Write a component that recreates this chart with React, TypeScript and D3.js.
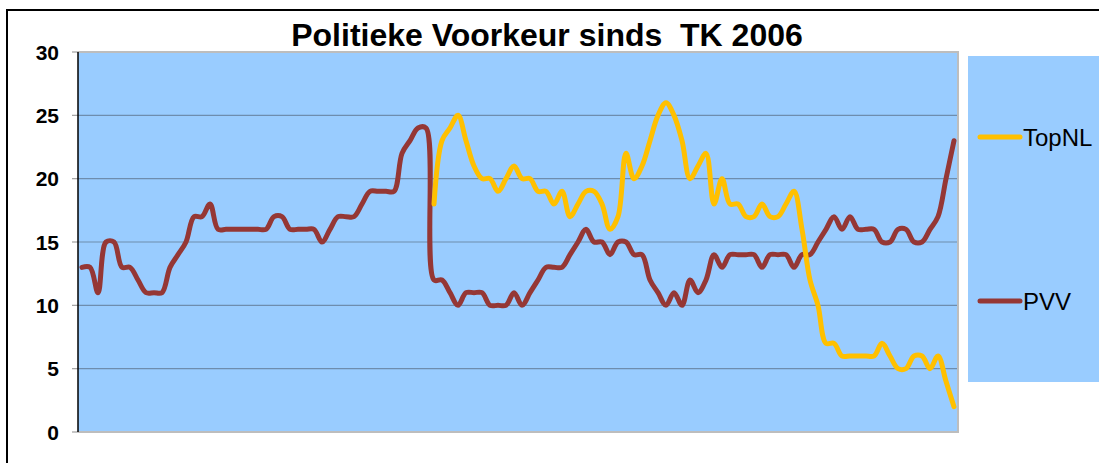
import React from 'react';
import * as d3 from 'd3';

// poll index (weeks since TK 2006), values in percent
const weeks = Array.from({ length: 110 }, (_, i) => i);

const pvv = [
  13, 13, 11, 15, 15, 13, 13, 12, 11, 11,
  11, 13, 14, 15, 17, 17, 18, 16, 16, 16,
  16, 16, 16, 16, 17, 17, 16, 16, 16, 16,
  15, 16, 17, 17, 17, 18, 19, 19, 19, 19,
  22, 23, 24, 24, 12, 12, 11, 10, 11, 11,
  11, 10, 10, 10, 11, 10, 11, 12, 13, 13,
  13, 14, 15, 16, 15, 15, 14, 15, 15, 14,
  14, 12, 11, 10, 11, 10, 12, 11, 12, 14,
  13, 14, 14, 14, 14, 13, 14, 14, 14, 13,
  14, 14, 15, 16, 17, 16, 17, 16, 16, 16,
  15, 15, 16, 16, 15, 15, 16, 17, 20, 23,
];

// TopNL only polled from week 44 on
const topnl = [
  null, null, null, null, null, null, null, null, null, null,
  null, null, null, null, null, null, null, null, null, null,
  null, null, null, null, null, null, null, null, null, null,
  null, null, null, null, null, null, null, null, null, null,
  null, null, null, null, 18, 23, 24, 25, 23, 21,
  20, 20, 19, 20, 21, 20, 20, 19, 19, 18,
  19, 17, 18, 19, 19, 18, 16, 17, 22, 20,
  21, 23, 25, 26, 25, 23, 20, 21, 22, 18,
  20, 18, 18, 17, 17, 18, 17, 17, 18, 19,
  16, 12, 10, 7, 7, 6, 6, 6, 6, 6,
  7, 6, 5, 5, 6, 6, 5, 6, 4, 2,
];

const yTicks = [0, 5, 10, 15, 20, 25, 30];
const seriesNames = ['TopNL', 'PVV'];
const seriesColors = ['#FFC000', '#953735'];

const W = 1099;
const H = 463;
const plot = { left: 78, right: 958, top: 52, bottom: 432 };

export default function App() {
  const x = d3
    .scalePoint<number>()
    .domain(weeks)
    .range([plot.left, plot.right])
    .padding(0.5);
  const y = d3.scaleLinear().domain([0, 30]).range([plot.bottom, plot.top]);

  const line = d3
    .line<number | null>()
    .defined(d => d !== null)
    .x((d, i) => x(weeks[i]) as number)
    .y(d => y(d as number))
    .curve(d3.curveCatmullRom);

  const font = 'Arial, "Liberation Sans", sans-serif';

  return (
    <svg
      width={W}
      height={H}
      style={{ position: 'absolute', left: 0, top: 0, background: '#fff' }}
    >
      <rect x={7} y={10} width={1200} height={600} fill="#fff" stroke="#000" strokeWidth={2} />

      <text
        x={547}
        y={46}
        textAnchor="middle"
        fontFamily={font}
        fontWeight="bold"
        fontSize={32}
        style={{ whiteSpace: 'pre' }}
      >
        Politieke Voorkeur sinds  TK 2006
      </text>

      {/* plot area */}
      <rect
        x={plot.left}
        y={plot.top}
        width={plot.right - plot.left}
        height={plot.bottom - plot.top}
        fill="#99CCFF"
      />
      {yTicks.slice(1, -1).map(t => (
        <line
          key={t}
          x1={plot.left}
          x2={plot.right}
          y1={y(t)}
          y2={y(t)}
          stroke="#6E8DAE"
          strokeWidth={1.2}
        />
      ))}
      <path
        d={`M${plot.left},${plot.top}H${plot.right}V${plot.bottom}H${plot.left}`}
        fill="none"
        stroke="#BDBDBD"
        strokeWidth={2}
      />

      {/* y axis */}
      {yTicks.map(t => (
        <g key={t}>
          <line x1={72} x2={plot.left} y1={y(t)} y2={y(t)} stroke="#A0A0A0" strokeWidth={1.2} />
          <text
            x={59}
            y={y(t)}
            dy="0.36em"
            textAnchor="end"
            fontFamily={font}
            fontWeight="bold"
            fontSize={21}
          >
            {t}
          </text>
        </g>
      ))}
      <line x1={plot.left} x2={plot.left} y1={plot.top} y2={plot.bottom} stroke="#000" strokeWidth={1.5} />

      {/* series */}
      <path d={line(pvv) || ''} fill="none" stroke={seriesColors[1]} strokeWidth={5} strokeLinecap="round" strokeLinejoin="round" />
      <path d={line(topnl) || ''} fill="none" stroke={seriesColors[0]} strokeWidth={5} strokeLinecap="round" strokeLinejoin="round" />

      {/* legend */}
      <rect x={968} y={56} width={200} height={326} fill="#99CCFF" />
      {seriesNames.map((name, i) => {
        const ly = i === 0 ? 137 : 301;
        return (
          <g key={name}>
            <line x1={980} x2={1020} y1={ly} y2={ly} stroke={seriesColors[i]} strokeWidth={5} strokeLinecap="round" />
            <text x={1023} y={ly + 9} fontFamily={font} fontSize={24}>
              {name}
            </text>
          </g>
        );
      })}
    </svg>
  );
}
